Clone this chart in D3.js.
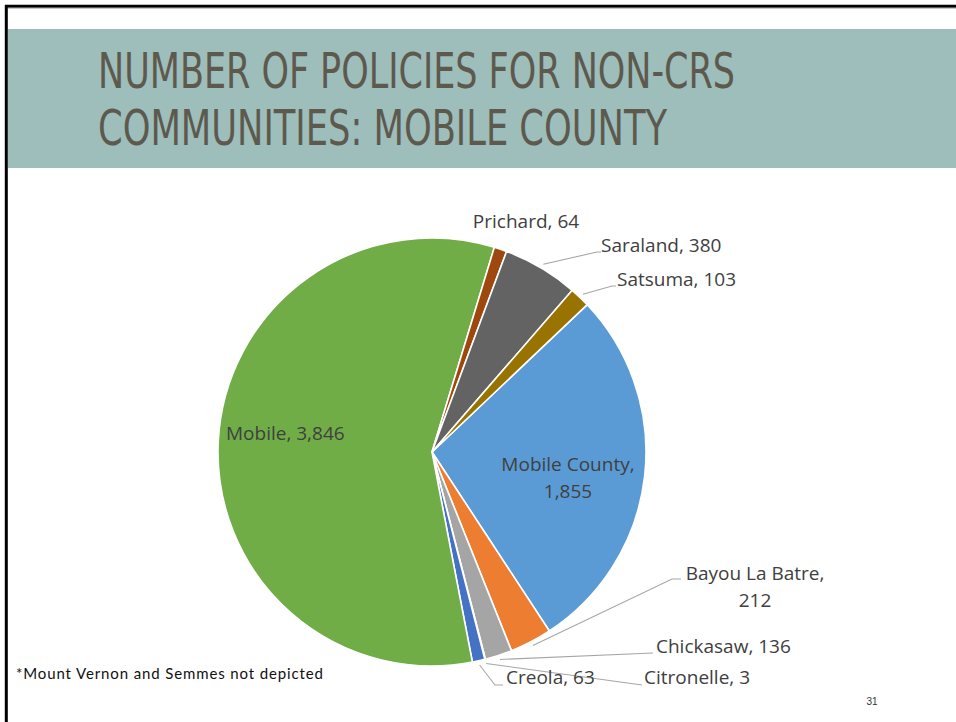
<!DOCTYPE html>
<html>
<head>
<meta charset="utf-8">
<script src="https://cdn.jsdelivr.net/npm/d3@7/dist/d3.min.js"></script>
<style>
  html, body { margin: 0; padding: 0; background: #fff; }
  svg { display: block; }
</style>
</head>
<body>
<svg id="chart" width="956" height="722"></svg>
<script>
// ---------------- DATA ----------------
const titleLines = ["NUMBER OF POLICIES FOR NON-CRS", "COMMUNITIES: MOBILE COUNTY"];
const categories = ["Mobile County", "Bayou La Batre", "Chickasaw", "Citronelle", "Creola", "Mobile", "Prichard", "Saraland", "Satsuma"];
const values     = [1855, 212, 136, 3, 63, 3846, 64, 380, 103];
const colors     = ["#5B9BD5", "#ED7D31", "#A5A5A5", "#FFC000", "#4472C4", "#70AD47", "#9E480E", "#636363", "#997300"];
const footnote   = "*Mount Vernon and Semmes not depicted";
const pageNumber = "31";

// ---------------- LAYOUT (label placement, not data) ----------------
const W = 956, H = 722;
const cx = 432, cy = 452, R = 214;
const firstSliceAngle = 46.5; // degrees, clockwise from 12 o'clock
const labelLayout = {
  "Mobile County":  {anchor: "middle", x: 568, y: 471, split: true},
  "Mobile":         {anchor: "start",  x: 226, y: 440},
  "Prichard":       {anchor: "middle", x: 526, y: 228},
  "Saraland":       {anchor: "start",  x: 601, y: 252, leader: [[597, 252], [601, 252]]},
  "Satsuma":        {anchor: "start",  x: 617, y: 286, leader: [[612, 286], [616, 286]]},
  "Bayou La Batre": {anchor: "middle", x: 755, y: 580, split: true, leader: [[672, 579], [681, 579]]},
  "Chickasaw":      {anchor: "start",  x: 656, y: 653, leader: [[653, 653]]},
  "Citronelle":     {anchor: "start",  x: 644, y: 684, leader: [[642, 685]]},
  "Creola":         {anchor: "start",  x: 506, y: 684, leader: [[495, 685], [503, 685]]}
};

const svg = d3.select("#chart");

// slide border (top + left)
svg.append("rect").attr("x", 0).attr("y", 0).attr("width", W).attr("height", H).attr("fill", "#fff");
svg.append("line").attr("x1", 5).attr("x2", W).attr("y1", 6.3).attr("y2", 6.3)
  .attr("stroke", "#000").attr("stroke-width", 3);
svg.append("line").attr("x1", W).attr("x2", 5).attr("y1", 8.3).attr("y2", 8.3)
  .attr("stroke", "#bbb").attr("stroke-width", 1);
svg.append("line").attr("x1", 6.3).attr("x2", 6.3).attr("y1", 5).attr("y2", H)
  .attr("stroke", "#000").attr("stroke-width", 3);

// title band
svg.append("rect").attr("x", 8).attr("y", 29).attr("width", W - 8).attr("height", 139).attr("fill", "#9DBEBB");
const titleWidths = [637, 569];
const titleBase = [88, 144.5];
titleLines.forEach((t, i) => {
  svg.append("text")
    .attr("x", 98).attr("y", titleBase[i])
    .attr("font-family", "'Liberation Sans Narrow', 'DejaVu Sans Condensed', sans-serif")
    .attr("font-size", 50)
    .attr("fill", "#5E594D")
    .attr("textLength", titleWidths[i])
    .attr("lengthAdjust", "spacingAndGlyphs")
    .text(t);
});

// pie
const data = categories.map((c, i) => ({name: c, value: values[i], color: colors[i]}));
const a0 = firstSliceAngle * Math.PI / 180;
const pie = d3.pie().sort(null).value(d => d.value).startAngle(a0).endAngle(a0 + 2 * Math.PI);
const arcs = pie(data);
const arc = d3.arc().innerRadius(0).outerRadius(R);

const g = svg.append("g").attr("transform", `translate(${cx},${cy})`);
g.selectAll("path.slice").data(arcs).enter().append("path")
  .attr("class", "slice")
  .attr("d", arc)
  .attr("fill", d => d.data.color)
  .attr("stroke", "#fff")
  .attr("stroke-width", 1.6)
  .attr("stroke-linejoin", "round");

// labels
const fmt = d3.format(",");
const labelFont = "'Open Sans', 'Noto Sans', sans-serif";
arcs.forEach(d => {
  const L = labelLayout[d.data.name];
  if (!L || !L.leader) return;
  const mid = (d.startAngle + d.endAngle) / 2;
  const rs = R * 1.02;
  const pts = [[cx + rs * Math.sin(mid), cy - rs * Math.cos(mid)], ...L.leader];
  svg.append("path")
    .attr("d", d3.line()(pts))
    .attr("fill", "none")
    .attr("stroke", "#A6A6A6")
    .attr("stroke-width", 1.1);
});
arcs.forEach(d => {
  const L = labelLayout[d.data.name];
  if (!L) return;
  const lines = L.split ? [d.data.name + ",", fmt(d.data.value)] : [d.data.name + ", " + fmt(d.data.value)];
  const t = svg.append("text")
    .attr("font-family", labelFont)
    .attr("font-size", 19)
    .attr("fill", "#404040")
    .attr("text-anchor", L.anchor);
  lines.forEach((ln, i) => {
    t.append("tspan").attr("x", L.x).attr("y", L.y + i * 27).text(ln);
  });
});

// footnote
svg.append("text")
  .attr("x", 16).attr("y", 679)
  .attr("font-family", "'Lato', 'DejaVu Sans', sans-serif")
  .attr("font-size", 15)
  .attr("fill", "#111")
  .attr("textLength", 307)
  .attr("lengthAdjust", "spacing")
  .text(footnote);

// page number
svg.append("text")
  .attr("x", 872).attr("y", 705)
  .attr("text-anchor", "middle")
  .attr("font-family", "'Liberation Sans Narrow', sans-serif")
  .attr("font-size", 10)
  .attr("fill", "#333")
  .text(pageNumber);
</script>
</body>
</html>
